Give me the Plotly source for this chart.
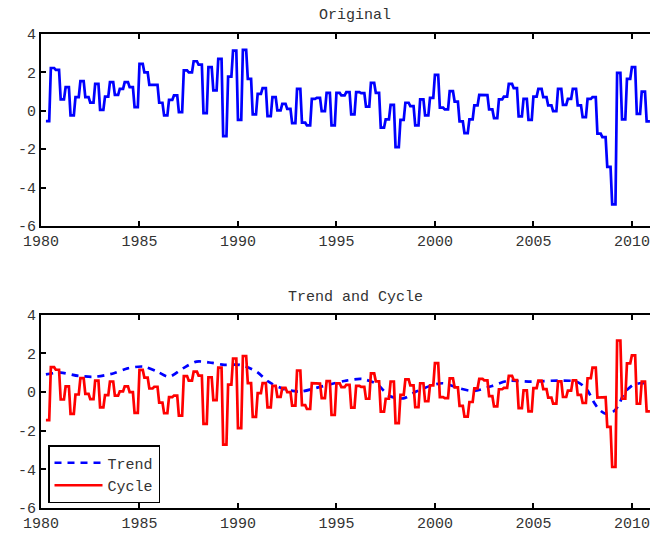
import numpy as np
import plotly.graph_objects as go

# ---------------- data (quarterly values, shown as monthly steps) ----------------
start_year = 1980.25
months_per_quarter = 3

original_q = [
    -0.54, 2.23, 2.13, 0.59, 1.23, -0.24, 0.71, 1.54, 0.71, 0.43,
    1.40, 0.05, 0.74, 1.49, 0.83, 1.14, 1.49, 1.23, 0.19, 2.44,
    2.00, 1.35, 1.35, 0.42, -0.24, 0.57, 0.80, -0.07, 2.10, 2.00,
    2.58, 2.40, -0.12, 2.27, 1.06, 2.70, -1.32, 1.78, 3.13, -0.47,
    3.17, 1.66, -0.19, 0.88, 1.18, -0.28, 0.71, 0.02, 0.36, 0.10,
    -0.64, 1.14, -0.62, -0.76, 0.62, 0.67, -0.02, 0.93, -0.76, 0.93,
    0.80, 0.97, -0.19, 0.97, 0.92, 0.22, 1.45, 0.93, -0.88, -0.45,
    0.31, -1.89, -0.47, 0.42, 0.24, -0.76, 0.59, -0.24, 0.67, 1.87,
    0.16, 0.07, 1.02, 0.48, -0.55, -1.16, -0.45, 0.28, 0.83, 0.82,
    0.07, -0.38, 0.59, 0.74, 1.40, 1.18, -0.29, 0.62, -0.47, 0.74,
    1.14, 0.71, 0.28, -0.02, 1.14, 0.31, 0.62, 1.14, 0.28, -0.33,
    0.62, 0.71, -1.19, -1.37, -2.92, -4.88, 1.97, -0.45, 1.66, 2.27,
    -0.16, 1.00, -0.55,
]

cycle_q = [
    -1.46, 1.28, 1.15, -0.39, 0.29, -1.13, -0.13, 0.72, -0.10, -0.37,
    0.59, -0.80, -0.16, 0.54, -0.19, 0.03, 0.29, -0.01, -1.08, 1.14,
    0.74, 0.18, 0.27, -0.55, -1.10, -0.27, -0.19, -1.22, 0.82, 0.59,
    1.05, 0.85, -1.65, 0.76, -0.42, 1.26, -2.72, 0.38, 1.73, -1.87,
    1.86, 0.46, -1.29, -0.06, 0.46, -0.80, 0.32, -0.25, 0.21, -0.01,
    -0.71, 1.11, -0.68, -0.88, 0.45, 0.43, -0.32, 0.56, -1.19, 0.44,
    0.25, 0.37, -0.81, 0.32, 0.26, -0.35, 0.96, 0.55, -1.02, -0.35,
    0.54, -1.61, -0.15, 0.65, 0.34, -0.79, 0.45, -0.48, 0.34, 1.49,
    -0.27, -0.32, 0.70, 0.24, -0.72, -1.28, -0.52, 0.19, 0.68, 0.60,
    -0.22, -0.75, 0.14, 0.21, 0.83, 0.62, -0.84, 0.08, -1.00, 0.20,
    0.59, 0.15, -0.29, -0.60, 0.55, -0.26, 0.07, 0.60, -0.15, -0.57,
    0.71, 1.26, -0.29, -0.27, -1.80, -3.88, 2.66, -0.35, 1.48, 1.89,
    -0.61, 0.54, -1.00,
]

trend_years = [
    1980.25, 1981.0, 1981.9, 1982.75, 1983.7, 1984.4, 1985.2, 1985.9, 1986.5,
    1987.2, 1987.9, 1988.7, 1989.3, 1990.1, 1990.95, 1991.55, 1992.3, 1993.15,
    1993.9, 1994.75, 1995.5, 1996.3, 1997.05, 1997.7, 1998.4, 1999.05, 1999.75,
    2000.4, 2001.2, 2001.95, 2002.9, 2003.7, 2004.9, 2006.25, 2007.2, 2007.7,
    2008.08, 2008.33, 2008.6, 2008.85, 2009.08, 2009.33, 2009.58, 2009.83,
    2010.08, 2010.4, 2010.92,
]
trend_values = [
    0.91, 1.0, 0.83, 0.79, 0.97, 1.22, 1.31, 1.05, 0.79,
    1.22, 1.57, 1.5, 1.4, 1.4, 1.05, 0.53, 0.16, 0.02,
    0.19, 0.41, 0.59, 0.67, 0.41, -0.21, -0.33, 0.02, 0.31,
    0.45, 0.2, 0.05, 0.31, 0.57, 0.53, 0.59, 0.53, 0.15,
    -0.55, -0.9, -1.1, -1.12, -1.0, -0.69, -0.1, 0.18,
    0.38, 0.45, 0.45,
]

x_ticks = [1980, 1985, 1990, 1995, 2000, 2005, 2010]
y_ticks = [4, 2, 0, -2, -4, -6]
y_tick_labels = ["4", "2", "0", "-2", "-4", "-6"]
titles = ["Original", "Trend and Cycle"]
legend_names = ["Trend", "Cycle"]

# ---------------- build monthly step series ----------------
n_months = len(original_q) * months_per_quarter
x_month = start_year + np.arange(n_months) / 12.0
orig_m = np.repeat(original_q, months_per_quarter)
cycle_m = np.repeat(cycle_q, months_per_quarter)

FONT = "Liberation Mono"
TXT = "#333333"

fig = go.Figure()
fig.add_trace(go.Scatter(x=x_month, y=orig_m, mode="lines",
                         line=dict(color="#0000ff", width=2.7),
                         showlegend=False, xaxis="x", yaxis="y"))
fig.add_trace(go.Scatter(x=trend_years, y=trend_values, mode="lines",
                         name=legend_names[0],
                         line=dict(color="#0000ff", width=2.7, dash="7px,6px",
                                   shape="spline", smoothing=0.8),
                         xaxis="x2", yaxis="y2"))
fig.add_trace(go.Scatter(x=x_month, y=cycle_m, mode="lines",
                         name=legend_names[1],
                         line=dict(color="#ff0000", width=2.7),
                         xaxis="x2", yaxis="y2"))

xr = [1980, 2010.92]
common_x = dict(range=xr, tickvals=x_ticks, ticks="inside", ticklen=5,
                tickwidth=1.5, tickcolor="black", showline=True,
                linecolor="black", linewidth=2, mirror="ticks",
                showgrid=False, zeroline=False,
                tickfont=dict(family=FONT, size=15, color=TXT))
common_y = dict(range=[-6, 4], tickvals=y_ticks, ticktext=y_tick_labels,
                ticks="inside", ticklen=5, tickwidth=1.5, tickcolor="black",
                showline=True, linecolor="black", linewidth=2, mirror=False,
                showgrid=False, zeroline=False,
                tickfont=dict(family=FONT, size=15, color=TXT))

fig.update_layout(
    width=650, height=538,
    margin=dict(l=41, r=0, t=34, b=30),
    plot_bgcolor="white", paper_bgcolor="white",
    xaxis=dict(domain=[0, 1], anchor="y", **common_x),
    yaxis=dict(domain=[0.595, 1.0], anchor="x", **common_y),
    xaxis2=dict(domain=[0, 1], anchor="y2", **common_x),
    yaxis2=dict(domain=[0.0, 0.408], anchor="x2", **common_y),
    legend=dict(x=0.0115, y=0.0105, xanchor="left", yanchor="bottom",
                bgcolor="white", bordercolor="black", borderwidth=1.5,
                font=dict(family=FONT, size=15, color=TXT),
                itemwidth=48, tracegroupgap=0),
    annotations=[
        dict(text=titles[0], x=0.5156, y=1.040, xref="paper", yref="paper",
             showarrow=False, xanchor="center", yanchor="middle",
             font=dict(family=FONT, size=15, color=TXT)),
        dict(text=titles[1], x=0.5156, y=0.445, xref="paper", yref="paper",
             showarrow=False, xanchor="center", yanchor="middle",
             font=dict(family=FONT, size=15, color=TXT)),
    ],
)

fig.write_html(
    "out.html",
    config={"displayModeBar": False},
    post_script="document.body.style.margin='0';document.body.style.padding='0';"
                "document.body.style.overflow='hidden';",
)
